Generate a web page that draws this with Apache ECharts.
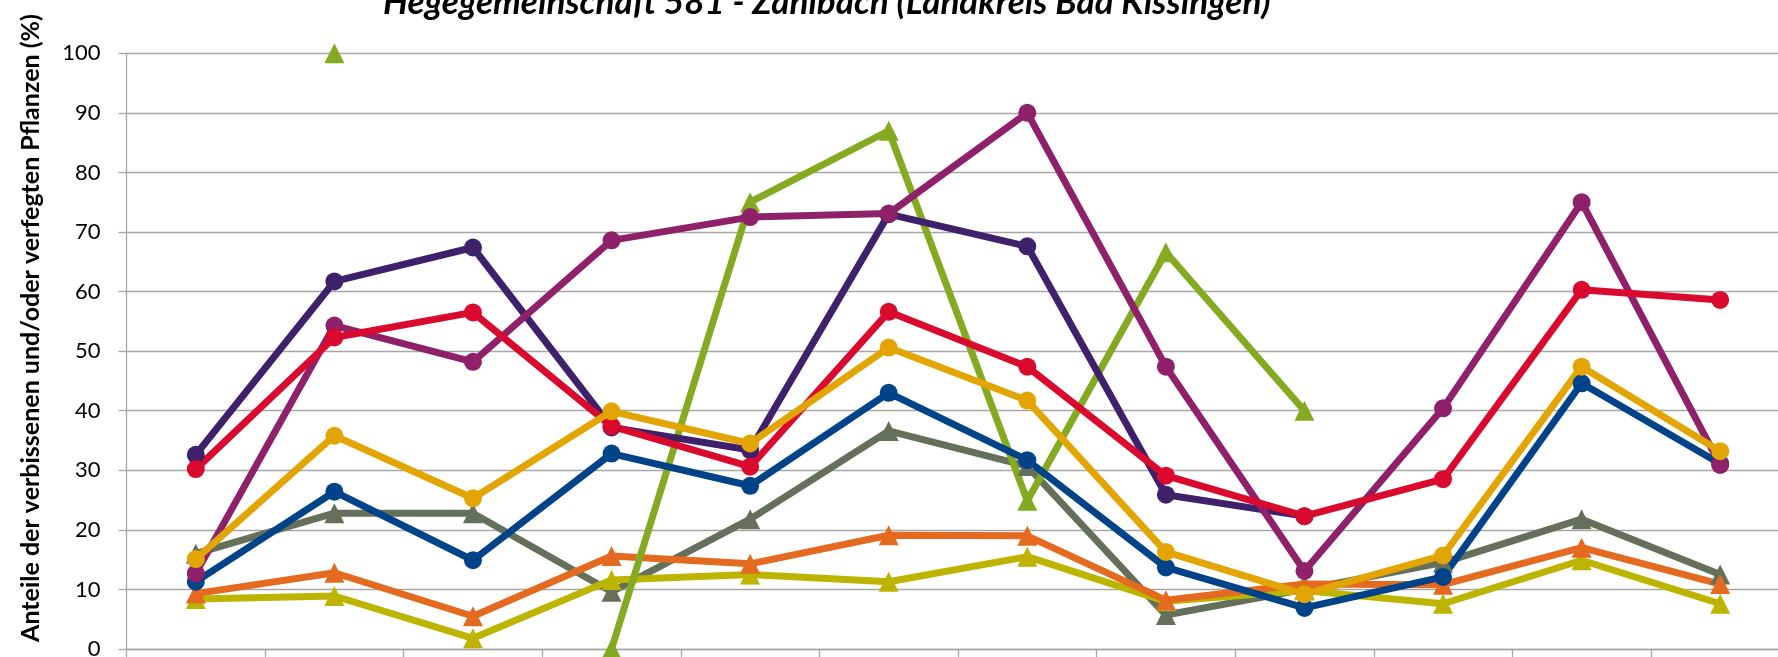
<!DOCTYPE html>
<html>
<head>
<meta charset="utf-8">
<script src="https://cdn.jsdelivr.net/npm/echarts@6/dist/echarts.min.js"></script>
<style>
html,body{margin:0;padding:0;background:#fff;}
#chart{width:1778px;height:657px;}
</style>
</head>
<body>
<div id="chart"></div>
<script>
const titleText = 'Hegegemeinschaft 581 - Zahlbach (Landkreis Bad Kissingen)';
const yAxisName = 'Anteile der verbissenen und/oder verfegten Pflanzen (%)';
const categories = ['1991','1994','1997','2000','2003','2006','2009','2012','2015','2018','2021','2024'];
const yTicks = {min: 0, max: 100, interval: 10};

const seriesGray    = [16.0, 22.8, 22.8, 9.6, 21.8, 36.6, 30.7, 5.7, 10.0, 14.5, 21.8, 12.5];
const seriesOlive   = [8.4, 8.9, 1.8, 11.6, 12.5, 11.3, 15.5, 8.0, 9.8, 7.6, 14.9, 7.6];
const seriesOrange  = [9.3, 12.8, 5.5, 15.6, 14.3, 19.1, 19.0, 8.2, 10.9, 10.8, 17.0, 10.9];
const seriesGreen   = [null, 100, null, 0, 75.0, 87.0, 24.9, 66.6, 40.0, null, null, null];
const seriesBlue    = [11.3, 26.4, 14.9, 32.8, 27.4, 43.0, 31.7, 13.7, 6.9, 12.1, 44.6, 31.1];
const seriesIndigo  = [32.6, 61.7, 67.4, 37.2, 33.4, 73.0, 67.6, 25.9, 22.3, null, null, null];
const seriesMagenta = [12.7, 54.3, 48.2, 68.6, 72.5, 73.1, 90.0, 47.4, 13.1, 40.4, 75.0, 30.9];
const seriesRed     = [30.2, 52.3, 56.5, 37.4, 30.6, 56.6, 47.4, 29.1, 22.3, 28.5, 60.3, 58.6];
const seriesYellow  = [15.1, 35.8, 25.3, 39.9, 34.5, 50.6, 41.7, 16.3, 9.2, 15.7, 47.4, 33.2];

const lines = [
  {name: 'Reihe 1', data: seriesGray,    color: '#65705B', symbol: 'triangle'},
  {name: 'Reihe 2', data: seriesOlive,   color: '#BDB400', symbol: 'triangle'},
  {name: 'Reihe 3', data: seriesOrange,  color: '#E36A1F', symbol: 'triangle'},
  {name: 'Reihe 4', data: seriesGreen,   color: '#83AA20', symbol: 'triangle'},
  {name: 'Reihe 5', data: seriesBlue,    color: '#004389', symbol: 'circle'},
  {name: 'Reihe 6', data: seriesIndigo,  color: '#3E206B', symbol: 'circle'},
  {name: 'Reihe 7', data: seriesMagenta, color: '#8E2169', symbol: 'circle'},
  {name: 'Reihe 8', data: seriesRed,     color: '#DA0A2E', symbol: 'circle'},
  {name: 'Reihe 9', data: seriesYellow,  color: '#E2A504', symbol: 'circle'}
];

const chart = echarts.init(document.getElementById('chart'), null, {renderer: 'canvas'});
chart.setOption({
  animation: false,
  backgroundColor: '#ffffff',
  textStyle: {fontFamily: 'Lato'},
  title: {
    text: titleText,
    left: 383,
    top: -15,
    padding: 0,
    textStyle: {fontFamily: 'Lato', fontSize: 35, fontWeight: 'bold', fontStyle: 'italic', color: '#000'}
  },
  graphic: [{
    type: 'text',
    x: 31,
    y: 328,
    rotation: Math.PI / 2,
    style: {
      text: yAxisName,
      fontFamily: 'Lato',
      fontSize: 25,
      fontWeight: 'bold',
      fill: '#000',
      textAlign: 'center',
      textVerticalAlign: 'middle'
    }
  }],
  grid: {left: 126.5, top: 53.3, width: 1663, height: 595.7, containLabel: false, outerBoundsMode: 'none'},
  xAxis: {
    type: 'category',
    data: categories,
    boundaryGap: true,
    axisLine: {show: true, lineStyle: {color: '#A6A6A6', width: 1.3}},
    axisTick: {show: true, inside: false, length: 9, alignWithLabel: false, lineStyle: {color: '#A6A6A6', width: 1.3}},
    axisLabel: {show: true, fontSize: 22, color: '#000', margin: 14},
    splitLine: {show: false}
  },
  yAxis: {
    type: 'value',
    min: yTicks.min,
    max: yTicks.max,
    interval: yTicks.interval,
    axisLine: {show: true, lineStyle: {color: '#A6A6A6', width: 1.3}},
    axisTick: {show: true, length: 8, lineStyle: {color: '#A6A6A6', width: 1.3}},
    axisLabel: {fontFamily: 'Lato', fontSize: 22, color: '#000', margin: 26},
    splitLine: {show: true, lineStyle: {color: '#A6A6A6', width: 1.3}}
  },
  series: lines.map(s => ({
    name: s.name,
    type: 'line',
    data: s.data,
    symbol: s.symbol,
    symbolSize: s.symbol === 'triangle' ? 20 : 18,
    showAllSymbol: true,
    connectNulls: false,
    lineStyle: {color: s.color, width: 7},
    itemStyle: {color: s.color, borderWidth: 0},
    emphasis: {disabled: true}
  }))
});
</script>
</body>
</html>
